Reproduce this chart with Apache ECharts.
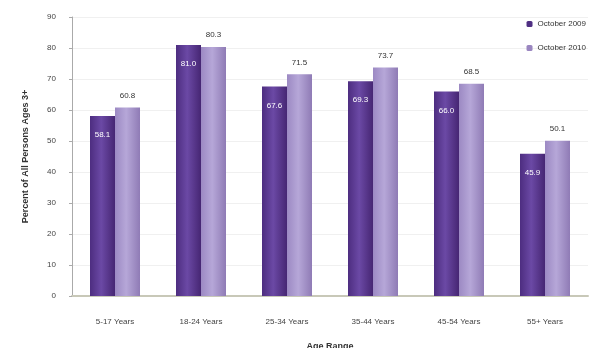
<!DOCTYPE html>
<html><head><meta charset="utf-8">
<script src="https://cdn.jsdelivr.net/npm/echarts@6/dist/echarts.min.js"></script>
<style>html,body{margin:0;padding:0;background:#fff}#c{width:597px;height:348px}</style>
</head><body><div id="c"></div>
<script>
const categories = ['5-17 Years','18-24 Years','25-34 Years','35-44 Years','45-54 Years','55+ Years'];
const oct2009 = [58.1, 81.0, 67.6, 69.3, 66.0, 45.9];
const oct2010 = [60.8, 80.3, 71.5, 73.7, 68.5, 50.1];
const seriesNames = ['October 2009','October 2010'];
const yTicks = {min:0, max:90, interval:10};

const darkGrad = new echarts.graphic.LinearGradient(0,0,1,0,[
  {offset:0,color:'#4d2d80'},{offset:0.45,color:'#6b49a5'},{offset:1,color:'#462673'}]);
const lightGrad = new echarts.graphic.LinearGradient(0,0,1,0,[
  {offset:0,color:'#9c89c3'},{offset:0.45,color:'#b6a7d8'},{offset:1,color:'#8f7bb5'}]);

const chart = echarts.init(document.getElementById('c'));
chart.setOption({
  animation:false,
  textStyle:{fontFamily:'Liberation Sans, Arial, sans-serif'},
  grid:{left:72,right:9,top:17,bottom:52,containLabel:false,outerBoundsMode:'none'},
  legend:{
    orient:'vertical', right:6, top:15, itemWidth:6, itemHeight:6, itemGap:16,
    textStyle:{fontSize:8,color:'#333'},
    data:[{name:seriesNames[0],itemStyle:{color:'#4f2f83'}},{name:seriesNames[1],itemStyle:{color:'#9a86c0'}}]
  },
  xAxis:{
    type:'category', data:categories,
    name:'Age Range', nameLocation:'middle', nameGap:46,
    nameTextStyle:{fontSize:9,fontWeight:'bold',color:'#333'},
    axisLine:{lineStyle:{color:'#c8c8b8',width:2}},
    axisTick:{show:false},
    axisLabel:{fontSize:8,color:'#444',margin:22}
  },
  yAxis:{
    type:'value', min:yTicks.min, max:yTicks.max, interval:yTicks.interval,
    name:'Percent of All Persons Ages 3+', nameLocation:'middle', nameGap:42,
    nameTextStyle:{fontSize:9,fontWeight:'bold',color:'#333'},
    axisLine:{show:true,lineStyle:{color:'#aaa'}},
    axisTick:{show:true,length:3,lineStyle:{color:'#aaa'}},
    axisLabel:{fontSize:8,color:'#444',margin:16},
    splitLine:{show:true,lineStyle:{color:'#f0f0f0'}}
  },
  series:[
    {name:seriesNames[0], type:'bar', data:oct2009, barWidth:25, barGap:'0%',
     itemStyle:{color:darkGrad},
     label:{show:true, position:'insideTop', offset:[0,10], color:'#fff', fontSize:8,
            formatter:p=>p.value.toFixed(1)}},
    {name:seriesNames[1], type:'bar', data:oct2010, barWidth:25,
     itemStyle:{color:lightGrad},
     label:{show:true, position:'top', distance:8, color:'#333', fontSize:8,
            formatter:p=>p.value.toFixed(1)}}
  ]
});
</script></body></html>
